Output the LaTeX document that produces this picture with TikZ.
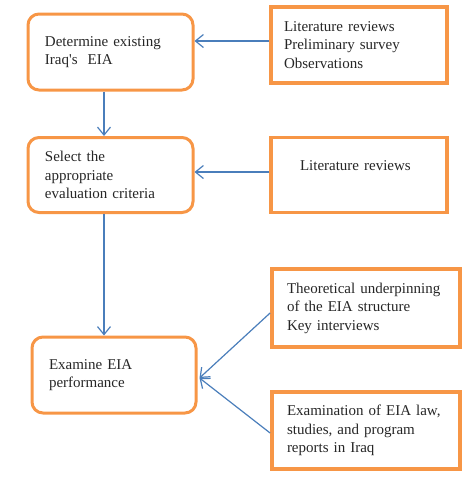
\documentclass[tikz,border=0pt]{standalone}
\usepackage{fontspec}
\setmainfont{Liberation Serif}[Ligatures=TeXOff]
\usetikzlibrary{arrows.meta}
\definecolor{boxorange}{HTML}{F79646}
\definecolor{arrowblue}{HTML}{4A7EBB}
\begin{document}
\begin{tikzpicture}[x=1pt,y=-1pt,
  every node/.style={font=\fontsize{15}{18.5}\selectfont,text=black!85},
  stage/.style={draw=boxorange,line width=3pt,rounded corners=11pt,align=left,inner ysep=0pt},
  source/.style={draw=boxorange,line width=3.8pt,align=left,inner ysep=0pt},
  link/.style={draw=arrowblue,line width=1.2pt,-{Straight Barb[length=8pt,width=13pt,line width=1.2pt]}}]
\useasboundingbox (0,0) rectangle (469,480);
% stages
\node[stage,inner xsep=17pt,text width=131pt,minimum height=76pt] (B1) at (110.5,52) {Determine existing\\Iraq's~ EIA};
\node[stage,inner xsep=17pt,text width=131pt,minimum height=75pt] (B2) at (110.5,175) {Select the\\appropriate\\evaluation criteria};
\node[stage,inner xsep=17pt,text width=130pt,minimum height=76pt] (B3) at (114,375) {Examine EIA\\performance};
% sources
\node[source,inner xsep=13pt,text width=150pt,minimum height=76pt] (R1) at (359,45) {Literature reviews\\Preliminary survey\\Observations};
\node[source,inner xsep=29pt,text width=118pt,minimum height=75pt] (R2) at (359,175) {Literature reviews\\\mbox{}};
\node[source,inner xsep=15pt,text width=158pt,minimum height=78pt] (R3) at (366,308) {Theoretical underpinning\\of the EIA structure\\Key interviews};
\node[source,inner xsep=15pt,text width=158pt,minimum height=77pt] (R4) at (366,430.5) {Examination of EIA law,\\studies, and program\\reports in Iraq};
% connectors
\draw[link] (R1.west |- 0,41) -- (B1.east |- 0,41);
\draw[link] (R2.west |- 0,172) -- (B2.east |- 0,172);
\draw[link] (B1.south -| 104,0) -- (B2.north -| 104,0);
\draw[link] (B2.south -| 104,0) -- (B3.north -| 104,0);
\draw[link] (R3.west |- 0,313) -- ([xshift=2pt,yshift=-3pt]B3.east);
\draw[link] (R4.west |- 0,433) -- ([xshift=2pt,yshift=-3pt]B3.east);
\end{tikzpicture}
\end{document}
